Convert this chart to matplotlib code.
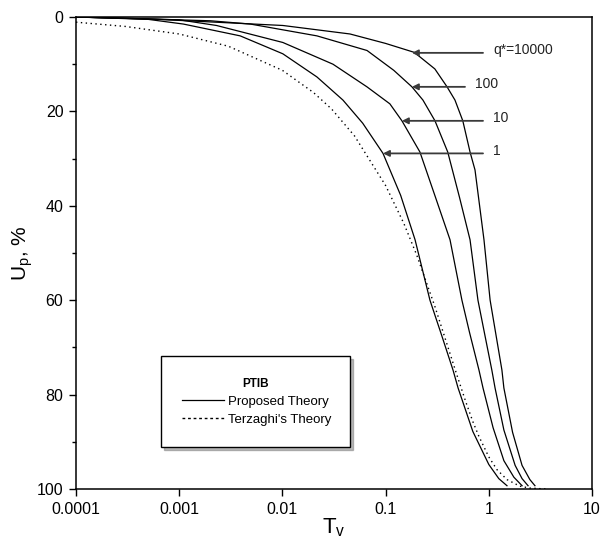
import matplotlib.pyplot as plt
from matplotlib.lines import Line2D
from matplotlib.ticker import FixedLocator, FixedFormatter, NullLocator

plt.rcParams['font.family'] = ['Liberation Sans', 'DejaVu Sans']

# Terzaghi's theory (dotted)
T_terz = [0.0001, 0.0003, 0.001, 0.003, 0.01, 0.02, 0.03, 0.05, 0.1, 0.15, 0.2, 0.3,
          0.4, 0.5, 0.6, 0.7, 0.8, 1.0, 1.2, 1.5, 2.0, 2.5, 3.0, 3.6]
U_terz = [1.1, 2.0, 3.6, 6.2, 11.3, 16.0, 19.5, 25.2, 35.7, 43.7, 50.4, 61.3,
          69.8, 76.4, 81.6, 85.7, 88.8, 93.2, 95.9, 98.0, 99.4, 99.8, 99.9, 100.0]

# proposed theory, q* = 1
T_q1 = [0.0001, 0.0005, 0.0011, 0.0039, 0.0101, 0.0216, 0.0386, 0.06, 0.0944, 0.14,
        0.193, 0.269, 0.35, 0.45, 0.504, 0.7, 1.0, 1.25, 1.5]
U_q1 = [0.0, 0.5, 1.5, 4.0, 7.8, 12.7, 17.6, 22.5, 28.9, 37.8,
        47.2, 60.0, 67.5, 74.8, 78.6, 87.8, 94.8, 97.8, 99.3]

# q* = 10
T_q10 = [0.0001, 0.001, 0.0023, 0.0101, 0.0309, 0.066, 0.110, 0.144, 0.215, 0.30,
         0.421, 0.549, 0.65, 0.803, 0.879, 1.1, 1.4, 1.75, 2.1]
U_q10 = [0.0, 0.6, 1.8, 5.4, 10.0, 14.8, 18.4, 22.0, 28.6, 37.8,
         47.2, 60.0, 66.8, 74.8, 78.6, 87.0, 94.0, 97.5, 99.3]

# q* = 100
T_q100 = [0.0001, 0.002, 0.0049, 0.0216, 0.0661, 0.12, 0.18, 0.23, 0.301, 0.40,
          0.52, 0.658, 0.785, 0.92, 1.07, 1.15, 1.4, 1.8, 2.1, 2.4]
U_q100 = [0.0, 0.8, 1.5, 4.0, 7.1, 11.3, 14.8, 17.6, 22.0, 28.6,
          38.2, 47.2, 60.0, 67.6, 74.8, 78.6, 87.5, 95.0, 97.8, 99.3]

# q* = 10000
T_q10000 = [0.0001, 0.0005, 0.0101, 0.0452, 0.10, 0.19, 0.30, 0.394, 0.47, 0.56,
            0.658, 0.735, 0.898, 1.03, 1.2, 1.34, 1.40, 1.7, 2.1, 2.5, 2.8]
U_q10000 = [0.0, 0.4, 1.8, 3.6, 5.6, 7.5, 11.0, 14.8, 17.6, 22.0,
            28.6, 32.4, 47.2, 60.0, 68.6, 74.8, 78.6, 88.0, 95.0, 98.0, 99.3]

x_ticks = [0.0001, 0.001, 0.01, 0.1, 1, 10]
x_labels = ['0.0001', '0.001', '0.01', '0.1', '1', '10']
y_ticks = [0, 20, 40, 60, 80, 100]

# labels: text, arrow tip (T, U), text position (T, U)
notes = [
    ('q*=10000', (0.18, 7.6), (1.10, 7.6)),
    ('100', (0.18, 14.8), (0.735, 14.8)),
    ('10', (0.144, 22.0), (1.10, 22.0)),
    ('1', (0.0944, 28.9), (1.10, 28.9)),
]
tails = [0.879, 0.588, 0.879, 0.879]

fig = plt.figure(figsize=(6.06, 5.41), dpi=100)
ax = fig.add_axes([0.1254, 0.0961, 0.8515, 0.8725])

ax.plot(T_terz, U_terz, color='black', lw=1.0, linestyle=(0, (1, 2.5)))
for T, U in [(T_q1, U_q1), (T_q10, U_q10), (T_q100, U_q100), (T_q10000, U_q10000)]:
    ax.plot(T, U, color='black', lw=0.9)

for (txt, tip, pos), tail in zip(notes, tails):
    ax.annotate('', xy=tip, xytext=(tail, tip[1]),
                arrowprops=dict(arrowstyle='-|>', color='#3a3a3a', lw=1.3,
                                mutation_scale=9, shrinkA=0, shrinkB=0))
    ax.text(pos[0], pos[1] - 0.6, txt, fontsize=10, ha='left', va='center', color='#222222')

ax.set_xscale('log')
ax.set_xlim(0.0001, 10)
ax.set_ylim(100, 0)
ax.xaxis.set_major_locator(FixedLocator(x_ticks))
ax.xaxis.set_major_formatter(FixedFormatter(x_labels))
ax.xaxis.set_minor_locator(NullLocator())
ax.yaxis.set_major_locator(FixedLocator(y_ticks))
ax.yaxis.set_minor_locator(FixedLocator([10, 30, 50, 70, 90]))
ax.tick_params(which='major', direction='out', length=5, width=1, labelsize=11.5, pad=4)
ax.tick_params(which='minor', direction='out', length=3, width=1)
for s in ax.spines.values():
    s.set_linewidth(1.1)

ax.set_xlabel('T$_\\mathregular{v}$', fontsize=16, labelpad=0)
ax.set_ylabel('U$_\\mathregular{p}$, %', fontsize=15, labelpad=1)

handles = [Line2D([], [], color='black', lw=0.9),
           Line2D([], [], color='black', lw=1.0, linestyle=(0, (2, 2)))]
leg = ax.legend(handles, ['Proposed Theory', "Terzaghi's Theory"], title='PTIB',
                loc='lower left', bbox_to_anchor=(0.165, 0.089, 0.366, 0.193), mode='expand',
                fontsize=9.5, title_fontproperties={'weight': 'bold', 'size': 8.5},
                frameon=True, fancybox=False, shadow={'color': '#777777', 'ox': 2, 'oy': -2},
                edgecolor='black', borderpad=1.6, labelspacing=0.45, handlelength=3.2,
                handletextpad=0.3, borderaxespad=0)
leg.get_frame().set_linewidth(1.0)

fig.savefig('out.png', dpi=100)
